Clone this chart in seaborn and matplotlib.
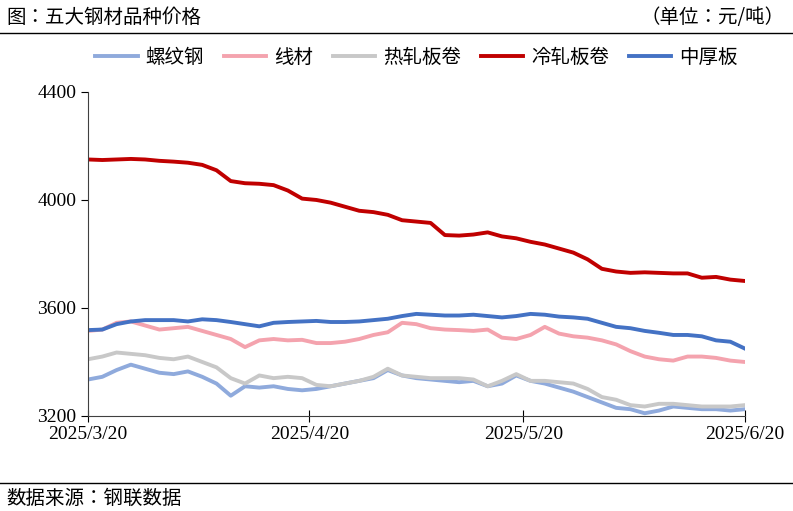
import matplotlib
matplotlib.use("Agg")
import matplotlib.pyplot as plt
from matplotlib import font_manager
import seaborn as sns
import pandas as pd

# prices every 2 days from 2025/3/20
luowen = [3335,3345,3370,3390,3375,3360,3355,3365,3345,3320,3275,3310,3305,3310,3300,3295,3300,3310,3320,3330,3340,3370,3350,3340,3335,3330,3325,3330,3310,3320,3350,3330,3320,3305,3290,3270,3250,3230,3225,3210,3220,3235,3230,3225,3225,3220,3225]
xiancai = [3515,3520,3545,3550,3535,3520,3525,3530,3515,3500,3485,3455,3480,3485,3480,3482,3470,3470,3475,3485,3500,3510,3545,3540,3525,3520,3518,3515,3520,3490,3485,3500,3530,3505,3495,3490,3480,3465,3440,3420,3410,3405,3420,3420,3415,3405,3400]
rezha = [3410,3420,3435,3430,3425,3415,3410,3420,3400,3380,3340,3320,3350,3340,3345,3340,3315,3310,3320,3330,3345,3375,3350,3345,3340,3340,3340,3335,3310,3330,3355,3330,3330,3325,3320,3300,3270,3260,3240,3235,3245,3245,3240,3235,3235,3235,3240]
lengzha = [4150,4148,4150,4152,4150,4145,4142,4138,4130,4110,4070,4062,4060,4055,4035,4005,4000,3990,3975,3960,3955,3945,3925,3920,3915,3870,3868,3872,3880,3865,3858,3845,3835,3820,3805,3780,3745,3735,3730,3732,3730,3728,3728,3712,3715,3705,3700]
zhonghou = [3518,3520,3540,3550,3555,3555,3555,3550,3558,3555,3548,3540,3532,3545,3548,3550,3552,3548,3548,3550,3555,3560,3570,3578,3575,3572,3572,3575,3570,3565,3570,3578,3575,3568,3565,3560,3545,3530,3525,3515,3508,3500,3500,3495,3480,3475,3450]
names = ["螺纹钢", "线材", "热轧板卷", "冷轧板卷", "中厚板"]
colors = ["#8FAADC", "#F4A3AE", "#C8C8C8", "#C00000", "#4472C4"]
tick_dates = ["2025-03-20", "2025-04-20", "2025-05-20", "2025-06-20"]
tick_labels = ["2025/3/20", "2025/4/20", "2025/5/20", "2025/6/20"]

series = [luowen, xiancai, rezha, lengzha, zhonghou]
n = min(len(s) for s in series)
dates = pd.date_range("2025-03-20", periods=n, freq="2D")
df = pd.concat([pd.DataFrame({"date": dates, "price": s[:n], "name": nm})
                for s, nm in zip(series, names)])

# find an installed CJK font
cjk = "Noto Sans CJK SC"
found = [f.name for f in font_manager.fontManager.ttflist if "CJK" in f.name]
if found and cjk not in found:
    cjk = found[0]
plt.rcParams["font.family"] = [cjk, "DejaVu Sans"]

fig = plt.figure(figsize=(7.93, 5.11), dpi=100)
ax = fig.add_axes([0.111, 0.186, 0.828, 0.634])
sns.lineplot(data=df, x="date", y="price", hue="name", palette=colors,
             hue_order=names, linewidth=2.8, ax=ax)

ax.set_xlim(pd.Timestamp("2025-03-20"), pd.Timestamp("2025-06-20"))
ax.set_ylim(3200, 4400)
ax.set_yticks([3200, 3600, 4000, 4400])
ax.set_xticks(pd.to_datetime(tick_dates))
ax.set_xticklabels(tick_labels)
for lab in ax.get_xticklabels() + ax.get_yticklabels():
    lab.set_fontfamily("Liberation Serif")
    lab.set_fontsize(14)
ax.set_xlabel("")
ax.set_ylabel("")
for s in ["top", "right"]:
    ax.spines[s].set_visible(False)
ax.spines["left"].set_color("#404040")
ax.spines["bottom"].set_color("#404040")
ax.tick_params(axis="y", direction="out", length=5)
ax.tick_params(axis="x", direction="inout", length=8)

leg = ax.legend(loc="lower center", bbox_to_anchor=(0.5, 1.02), ncol=5, frameon=False,
                fontsize=14, handlelength=2.2, columnspacing=1.0, handletextpad=0.4)
for t in leg.get_texts():
    t.set_fontfamily(cjk)

fig.text(0.008, 0.965, "图：五大钢材品种价格", fontsize=14, va="center", fontfamily=cjk)
fig.text(0.99, 0.965, "（单位：元/吨）", fontsize=14, va="center", ha="right", fontfamily=cjk)
fig.add_artist(plt.Line2D([0, 1], [0.935, 0.935], color="black", lw=1))
fig.add_artist(plt.Line2D([0, 1], [0.055, 0.055], color="black", lw=1))
fig.text(0.008, 0.025, "数据来源：钢联数据", fontsize=14, va="center", fontfamily=cjk)

fig.savefig("out.png", dpi=100)
